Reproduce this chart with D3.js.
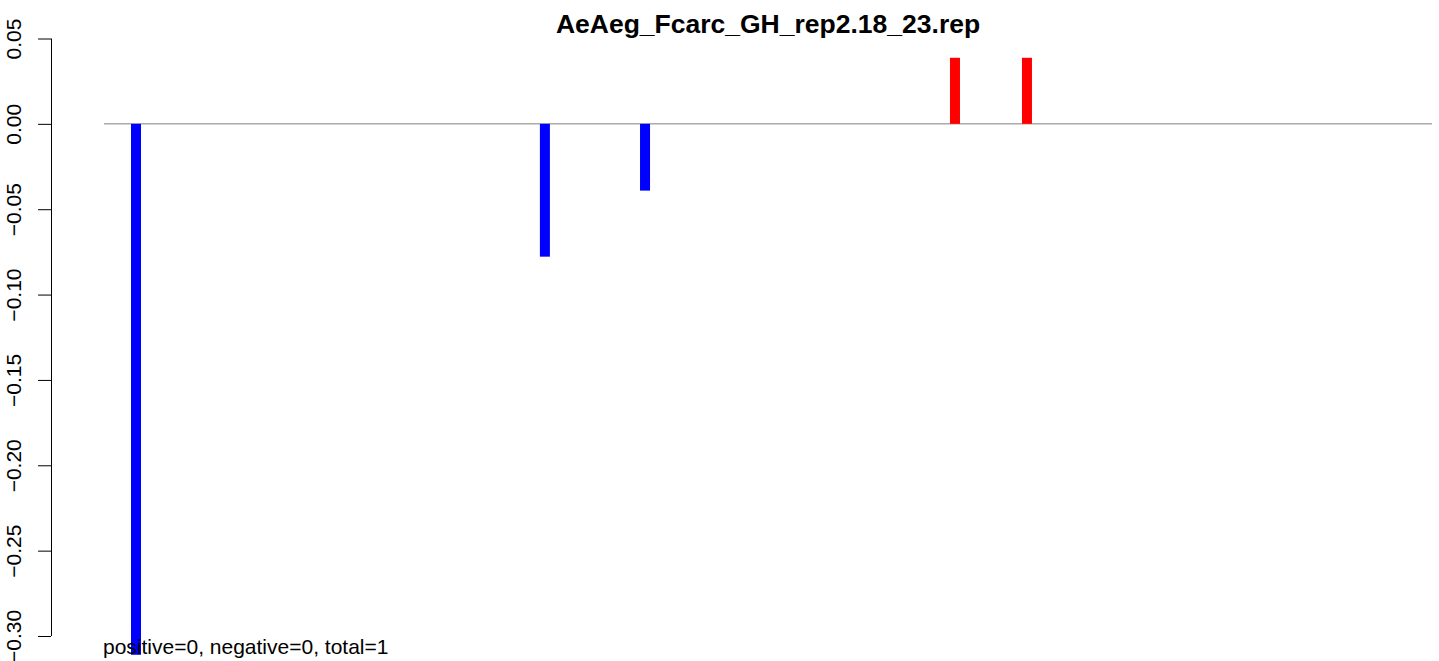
<!DOCTYPE html>
<html>
<head>
<meta charset="utf-8">
<script src="https://cdn.jsdelivr.net/npm/d3@7"></script>
<style>
  html, body { margin: 0; padding: 0; background: #fff; }
  svg { display: block; }
  text { font-family: "Liberation Sans", Arial, sans-serif; }
</style>
</head>
<body>
<svg id="chart" width="1439" height="661"></svg>
<script>
// ---- data ----
const title = "AeAeg_Fcarc_GH_rep2.18_23.rep";
const footnote = "positive=0, negative=0, total=1";
const positions = [2.41, 33.2, 40.74, 64.08, 69.5];
const values = [-0.311, -0.0778, -0.0391, 0.0387, 0.0387];
const yTicks = [0.05, 0.00, -0.05, -0.10, -0.15, -0.20, -0.25, -0.30];
const xDomain = [0, 100];
const yDomain = [-0.30, 0.05];

// ---- layout ----
const svg = d3.select("#chart");
const plot = { left: 104, right: 1432, top: 38.5, bottom: 636 };
const axisX = 51;

const x = d3.scaleLinear().domain(xDomain).range([plot.left, plot.right]);
const y = d3.scaleLinear().domain(yDomain).range([plot.bottom, plot.top]);

// zero line
svg.append("line")
  .attr("x1", x(xDomain[0])).attr("x2", x(xDomain[1]))
  .attr("y1", y(0)).attr("y2", y(0))
  .attr("stroke", "#808080").attr("stroke-width", 1);

// bars
const bw = 10;
svg.selectAll("rect.bar").data(values).enter().append("rect")
  .attr("class", "bar")
  .attr("x", (d, i) => x(positions[i]) - bw / 2)
  .attr("width", bw)
  .attr("y", d => Math.min(y(d), y(0)))
  .attr("height", d => Math.abs(y(d) - y(0)))
  .attr("fill", d => d < 0 ? "#0000ff" : "#ff0000");

// y axis
const yAxis = d3.axisLeft(y).tickValues(yTicks)
  .tickFormat(d3.format(".2f")).tickSize(13).tickSizeOuter(0);
const ga = svg.append("g").attr("transform", `translate(${axisX},0)`).call(yAxis);
ga.select(".domain").attr("stroke", "#000").attr("stroke-width", 1)
  .attr("d", `M0.5,${y(yDomain[1])}V${y(yDomain[0])}`);
ga.selectAll(".tick line").attr("stroke", "#000");
ga.selectAll(".tick text")
  .attr("font-size", 21)
  .attr("fill", "#000")
  .attr("text-anchor", "middle")
  .attr("transform", "rotate(-90)")
  .attr("x", 0).attr("y", -30).attr("dy", 0)
  .text(d => d3.format(".2f")(d).replace("-", "\u2212"));

// title
svg.append("text")
  .attr("x", (plot.left + plot.right) / 2).attr("y", 32.5)
  .attr("text-anchor", "middle")
  .attr("font-size", 26.5).attr("font-weight", "bold")
  .text(title);

// footnote
svg.append("text")
  .attr("x", 103).attr("y", 654)
  .attr("font-size", 21)
  .text(footnote);
</script>
</body>
</html>
